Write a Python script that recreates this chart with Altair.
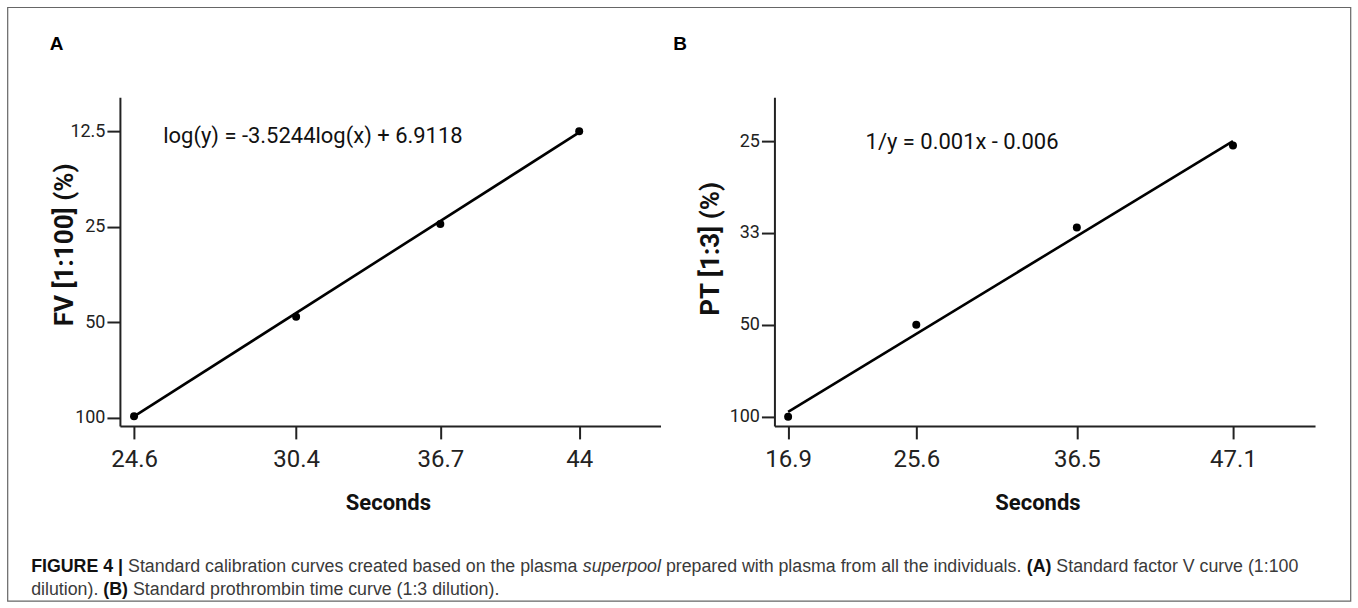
import altair as alt
import pandas as pd

# ---------------- data ----------------
a_seconds = [24.6, 30.4, 36.7, 44.0]
a_fv = [99.0, 48.0, 24.5, 12.5]
a_fit_seconds = [24.6, 44.0]
a_fit_fv = [99.0, 12.6]
a_x_ticks = [24.6, 30.4, 36.7, 44.0]
a_y_ticks = [12.5, 25, 50, 100]

b_seconds = [16.9, 25.6, 36.5, 47.1]
b_pt = [100.0, 50.0, 32.7, 25.3]
b_fit_seconds = [16.9, 47.1]
b_fit_pt = [95.0, 25.0]
b_x_ticks = [16.9, 25.6, 36.5, 47.1]
b_y_ticks = [25, 100 / 3, 50, 100]

eq_a = "log(y) = -3.5244log(x) + 6.9118"
eq_b = "1/y = 0.001x - 0.006"
title_a = "FV [1:100] (%)"
title_b = "PT [1:3] (%)"
x_title = "Seconds"

# caption pieces: (text, weight, style)
caption_line1 = [
    ("FIGURE 4 |", "bold", "normal"),
    ("Standard calibration curves created based on the plasma", "normal", "normal"),
    ("superpool", "normal", "italic"),
    ("prepared with plasma from all the individuals.", "normal", "normal"),
    ("(A)", "bold", "normal"),
    ("Standard factor V curve (1:100", "normal", "normal"),
]
caption_line2 = [
    ("dilution).", "normal", "normal"),
    ("(B)", "bold", "normal"),
    ("Standard prothrombin time curve (1:3 dilution).", "normal", "normal"),
]

# ---------------- layout (pixels) ----------------
W, H = 541, 329
OX_A, OY = 119.3, 96.7
OX_B = 774.3
CANVAS_W, CANVAS_H = 1358, 608
CAP_SIZE = 17.8
CAP_X0 = 30.5
cap1_y, cap2_y = 572.0, 595.0

# advance widths (1/1000 em) of Liberation Sans (Arial metrics), for caption flow
_REG = {" ": 278, "(": 333, ")": 333, ".": 278, ":": 278, "|": 260, "A": 667,
        "B": 667, "F": 611, "G": 778, "I": 278, "R": 722, "E": 667, "U": 722,
        "S": 667, "V": 667, "a": 556, "b": 556, "c": 500, "d": 556, "e": 556,
        "f": 278, "g": 556, "h": 556, "i": 222, "j": 222, "k": 500, "l": 222,
        "m": 833, "n": 556, "o": 556, "p": 556, "q": 556, "r": 333, "s": 500,
        "t": 278, "u": 556, "v": 500, "w": 722, "x": 500, "y": 500, "z": 500}
_BOLD = {" ": 278, "(": 333, ")": 333, "|": 280, "A": 722, "B": 722, "F": 611,
         "G": 778, "I": 278, "R": 722, "E": 667, "U": 722}


def text_width(t, weight, size):
    table = _BOLD if weight == "bold" else _REG
    return sum(table.get(c, _REG.get(c, 556)) for c in t) * size / 1000.0


def flow(pieces, x0, size):
    xs, x = [], x0
    for t, w, s in pieces:
        xs.append(x)
        x += text_width(t, w, size) + text_width(" ", "normal", size)
    return xs


one = pd.DataFrame({"k": [0]})

AX = dict(
    grid=False, domainColor="#222", domainWidth=2, tickColor="#222", tickWidth=2,
    tickSize=13, labelColor="#222", labelFont="Roboto", labelOverlap=False,
    labelFlush=False, titleFont="Roboto", titleFontWeight="bold", titleColor="#111",
    titleBaseline="middle", titleAlign="center",
)


def panel(seconds, vals, fit_s, fit_v, xscale, yscale, xaxis, yaxis, extra):
    pts = pd.DataFrame({"s": seconds, "v": vals})
    fit = pd.DataFrame({"s": fit_s, "v": fit_v})
    x = alt.X("s:Q", scale=xscale, axis=xaxis)
    y = alt.Y("v:Q", scale=yscale, axis=yaxis)
    line = alt.Chart(fit).mark_line(color="#000", strokeWidth=2.6).encode(x=x, y=y)
    dots = alt.Chart(pts).mark_point(filled=True, color="#000", size=64, opacity=1).encode(x=x, y=y)
    return alt.layer(*extra, line, dots).properties(width=W, height=H)


def text_at(x, y, txt, size, weight="normal", style="normal", font="Roboto",
            color="#111", align="left", baseline="middle"):
    return alt.Chart(one).mark_text(
        font=font, fontSize=size, fontWeight=weight, fontStyle=style, color=color,
        align=align, baseline=baseline,
    ).encode(x=alt.value(x), y=alt.value(y), text=alt.value(txt))


# ----- panel A extras (canvas, frame, caption, label, equation) -----
extra_a = [
    alt.Chart(one).mark_rect(opacity=0).encode(
        x=alt.value(-OX_A), x2=alt.value(CANVAS_W - OX_A),
        y=alt.value(-OY), y2=alt.value(CANVAS_H - OY)),
    alt.Chart(one).mark_rect(fillOpacity=0, stroke="#666", strokeWidth=1.2).encode(
        x=alt.value(7 - OX_A), x2=alt.value(1351 - OX_A),
        y=alt.value(7 - OY), y2=alt.value(601 - OY)),
    text_at(56 - OX_A, 44 - OY, "A", 19, weight="bold", font="Liberation Sans",
            color="#000", align="center"),
    text_at(43.3, 39.3, eq_a, 22, color="#111"),
]
for pieces, cy in ((caption_line1, cap1_y), (caption_line2, cap2_y)):
    for (t, w, s), xx in zip(pieces, flow(pieces, CAP_X0, CAP_SIZE)):
        extra_a.append(text_at(xx - OX_A, cy - OY, t, CAP_SIZE, weight=w, style=s,
                               font="Liberation Sans",
                               color="#111" if w == "bold" else "#3a3a3a",
                               baseline="alphabetic"))

extra_b = [
    text_at(680 - OX_B, 44 - OY, "B", 19, weight="bold", font="Liberation Sans",
            color="#000", align="center"),
    text_at(91.2, 45.3, eq_b, 22, color="#111"),
]

fmt = "format(datum.value, '~r')"

panel_a = panel(
    a_seconds, a_fv, a_fit_seconds, a_fit_fv,
    alt.Scale(type="log", domain=[24.15, 48.93], nice=False),
    alt.Scale(type="log", domain=[9.75, 106.1], nice=False, reverse=True),
    alt.Axis(values=a_x_ticks, title=x_title, labelExpr=fmt, labelFontSize=24,
             labelPadding=9, titleFontSize=22, titleX=268.2, titleY=77, **AX),
    alt.Axis(values=a_y_ticks, title=title_a, labelExpr=fmt, labelFontSize=18,
             labelPadding=2, titleFontSize=26, titleX=-55.3, titleY=147.3, **AX),
    extra_a,
)

panel_b = panel(
    b_seconds, b_pt, b_fit_seconds, b_fit_pt,
    alt.Scale(type="linear", domain=[15.97, 52.67], nice=False, zero=False),
    alt.Scale(type="pow", exponent=-1, domain=[22.33, 111.2], nice=False,
              zero=False, reverse=True),
    alt.Axis(values=b_x_ticks, title=x_title, labelExpr=fmt, labelFontSize=24,
             labelPadding=9, titleFontSize=22, titleX=263.2, titleY=77, **AX),
    alt.Axis(values=b_y_ticks, title=title_b, labelExpr="format(datum.value, 'd')",
             labelFontSize=18, labelPadding=2, titleFontSize=26, titleX=-64.3,
             titleY=151.3, **AX),
    extra_b,
)

chart = alt.hconcat(panel_a, panel_b, spacing=OX_B - OX_A - W, bounds="flush").properties(
    padding=0, background="white"
).configure_view(stroke=None)

chart.save("out.html", embed_options={"renderer": "svg", "actions": False})
